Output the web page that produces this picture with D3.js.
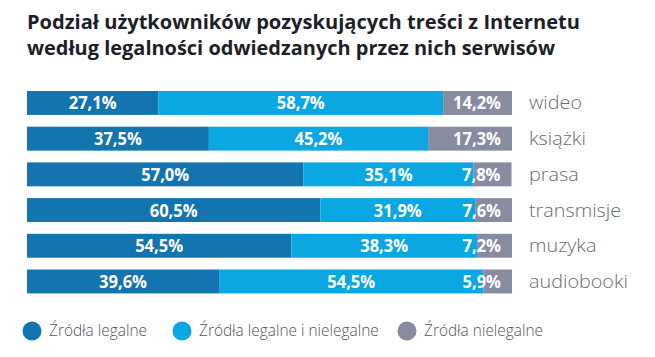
<!DOCTYPE html>
<html><head><meta charset="utf-8">
<script src="https://cdn.jsdelivr.net/npm/d3@7"></script>
<style>body{margin:0;background:#fff;}svg{display:block;}</style>
</head><body>
<svg id="c" width="655" height="357"></svg>
<script>
const titleLines = ["Podział użytkowników pozyskujących treści z Internetu", "według legalności odwiedzanych przez nich serwisów"];
const categories = ["wideo", "książki", "prasa", "transmisje", "muzyka", "audiobooki"];
const legalne = [27.1, 37.5, 57.0, 60.5, 54.5, 39.6];
const mieszane = [58.7, 45.2, 35.1, 31.9, 38.3, 54.5];
const nielegalne = [14.2, 17.3, 7.8, 7.6, 7.2, 5.9];
const seriesNames = ["Źródła legalne", "Źródła legalne i nielegalne", "Źródła nielegalne"];
const colors = ["#1474b0", "#0aa7e2", "#878ca1"];

const svg = d3.select("#c");
const fmt = v => v.toFixed(1).replace(".", ",") + "%";
// scale a group of texts so that the first element reaches the target width
const fitGroup = (sel, target) => {
  const f = target / sel.node().getComputedTextLength();
  sel.each(function(){ const L = this.getComputedTextLength(); d3.select(this).attr("textLength", L*f).attr("lengthAdjust","spacingAndGlyphs"); });
};

// title
const tt = svg.append("g");
titleLines.forEach((t,i) => {
  tt.append("text").attr("x", 27).attr("y", 29 + i*26).text(t)
    .attr("font-family", "Open Sans").attr("font-weight", 700).attr("font-size", 20).attr("fill", "#1e1e28");
});
tt.selectAll("text").each(function(d,i){ const target = i===0 ? 553 : 528; d3.select(this).attr("textLength", target).attr("lengthAdjust","spacingAndGlyphs"); });

const x = d3.scaleLinear().domain([0,100]).range([27,512]);
const y = d3.scaleBand().domain(categories).range([91, 91 + 5.67*35.7]).paddingInner(0.33).paddingOuter(0);

const data = categories.map((c,i) => ({cat:c, legalne:legalne[i], mieszane:mieszane[i], nielegalne:nielegalne[i]}));
const stack = d3.stack().keys(["legalne","mieszane","nielegalne"])(data);

const g = svg.append("g");
stack.forEach((s, si) => {
  g.selectAll(null).data(s).enter().append("rect")
    .attr("x", d => x(d[0])).attr("width", d => x(d[1]) - x(d[0]))
    .attr("y", d => y(d.data.cat)).attr("height", y.bandwidth())
    .attr("fill", colors[si]);
});
const labels = [];
stack.forEach((s, si) => {
  s.forEach(d => labels.push({si, d}));
});
const lab = g.selectAll(null).data(labels).enter().append("text")
  .attr("x", o => o.si === 2 ? x(o.d[1]) - 11 : (x(o.d[0]) + x(o.d[1]))/2)
  .attr("y", o => y(o.d.data.cat) + y.bandwidth()/2 + 6.5)
  .attr("text-anchor", o => o.si === 2 ? "end" : "middle")
  .attr("font-family", "Open Sans").attr("font-weight", 700).attr("font-size", 17)
  .attr("fill", "#fff").text(o => fmt(o.d[1]-o.d[0]));
fitGroup(lab, 48);

// category labels
const cl = g.selectAll(null).data(categories).enter().append("text")
  .attr("x", 529).attr("y", d => y(d) + y.bandwidth()/2 + 6.5)
  .attr("font-family", "Open Sans").attr("font-weight", 300).attr("font-size", 18)
  .attr("fill", "#6b6b6b").text(d => d);
fitGroup(cl, 53);

// legend
const lx = [32, 182, 407];
const lg = svg.append("g");
seriesNames.forEach((n,i) => {
  lg.append("circle").attr("cx", lx[i]).attr("cy", 331).attr("r", 9.5).attr("fill", colors[i]);
  lg.append("text").attr("x", lx[i] + 17).attr("y", 336).text(n)
    .attr("font-family", "Open Sans").attr("font-weight", 300).attr("font-size", 16).attr("fill", "#555");
});
fitGroup(lg.selectAll("text"), 98);
</script>
</body></html>
